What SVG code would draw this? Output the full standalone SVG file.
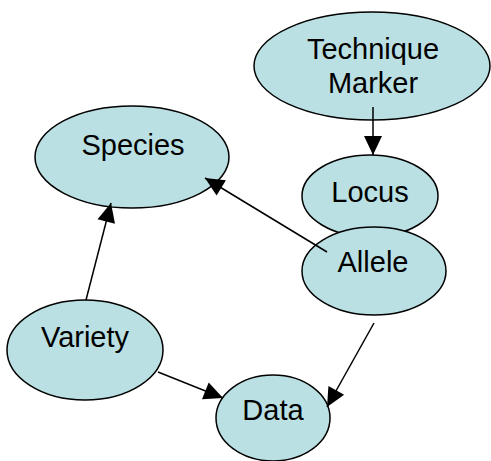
<svg xmlns="http://www.w3.org/2000/svg" width="491" height="461" viewBox="0 0 491 461">
<defs>
<marker id="arrow" markerUnits="userSpaceOnUse" markerWidth="19" markerHeight="18" refX="19" refY="9" orient="auto" overflow="visible">
<path d="M0,0 L19,9 L0,18 Z" fill="#000"/>
</marker>
</defs>
<g id="nodes" fill="#BAE0E3" stroke="#000" stroke-width="1.5">
<g id="technique"><ellipse cx="372" cy="66" rx="118" ry="54"/></g>
<g id="species"><ellipse cx="132" cy="157" rx="97" ry="51"/></g>
<g id="locus"><ellipse cx="370" cy="196" rx="68" ry="41"/></g>
<g id="allele"><ellipse cx="374" cy="271" rx="72" ry="44"/></g>
<g id="variety"><ellipse cx="85" cy="350" rx="78" ry="50"/></g>
<g id="data"><ellipse cx="273" cy="418" rx="57" ry="43"/></g>
</g>
<g id="labels" font-family="'Liberation Sans', Arial, sans-serif" font-size="29" fill="#000" text-anchor="middle">
<text x="373" y="59">Technique</text><text x="373" y="93">Marker</text>
<text x="133" y="155">Species</text>
<text x="370" y="202">Locus</text>
<text x="373" y="272">Allele</text>
<text x="85" y="347">Variety</text>
<text x="273" y="420">Data</text>
</g>
<g id="connectors" fill="none" stroke="#000" stroke-width="1.5" marker-end="url(#arrow)">
<path d="M373,107 L373,155"/>
<path d="M327,252 L205,178"/>
<path d="M86,300 L111,203"/>
<path d="M158,372 L223,398"/>
<path d="M374,323 L327,407"/>
</g>
</svg>
